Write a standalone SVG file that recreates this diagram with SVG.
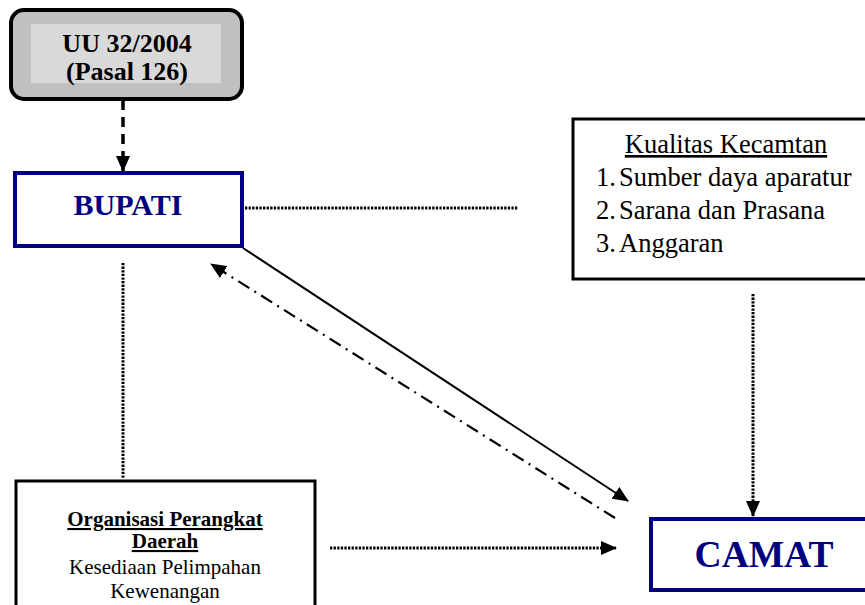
<svg xmlns="http://www.w3.org/2000/svg" width="865" height="605" viewBox="0 0 865 605">
<style>
.t{font-family:"Liberation Serif","Times New Roman",serif;}
.dot{stroke:#000;stroke-width:3;stroke-dasharray:2.3 1.3;fill:none;}
</style>
<defs>
<marker id="ahL" markerWidth="16" markerHeight="14" refX="15" refY="7" orient="auto" markerUnits="userSpaceOnUse" viewBox="0 0 16 14">
<path d="M0,0 L16,7 L0,14 z" fill="#000"/>
</marker>
</defs>
<rect width="865" height="605" fill="#fff"/>
<g id="connectors">
<line x1="123" y1="100" x2="123" y2="171" stroke="#000" stroke-width="3.5" stroke-dasharray="10 7" marker-end="url(#ahL)"/>
<line x1="245" y1="208" x2="518" y2="208" class="dot"/>
<line x1="123" y1="263" x2="123" y2="478" class="dot"/>
<line x1="753" y1="294" x2="753" y2="516" class="dot" marker-end="url(#ahL)"/>
<line x1="330" y1="548" x2="616" y2="548" class="dot" marker-end="url(#ahL)"/>
<line x1="243" y1="248" x2="628" y2="501" stroke="#000" stroke-width="2" marker-end="url(#ahL)"/>
<line x1="615" y1="518" x2="211" y2="264" stroke="#000" stroke-width="2.2" stroke-dasharray="13 6 2 6" marker-end="url(#ahL)"/>
</g>
<g id="uu">
<rect x="11" y="10" width="231" height="89" rx="13" fill="#c0c0c0" stroke="#000" stroke-width="4"/>
<rect x="31" y="24" width="190" height="59" fill="#d9d9d9"/>
<text class="t" x="127" y="52" font-size="26" font-weight="bold" text-anchor="middle">UU 32/2004</text>
<text class="t" x="127" y="80" font-size="26" font-weight="bold" text-anchor="middle">(Pasal 126)</text>
</g>
<g id="bupati">
<rect x="15" y="173" width="227" height="73" fill="#fff" stroke="#000080" stroke-width="4"/>
<text class="t" x="128" y="215" font-size="30" font-weight="bold" fill="#000080" text-anchor="middle">BUPATI</text>
</g>
<g id="kualitas">
<rect x="573" y="119" width="300" height="160" fill="#fff" stroke="#000" stroke-width="3"/>
<text class="t" x="726" y="153" font-size="26.5" text-anchor="middle" text-decoration="underline">Kualitas Kecamtan</text>
<text class="t" x="596" y="186" font-size="26.5">1.</text>
<text class="t" x="619" y="186" font-size="26.5">Sumber daya aparatur</text>
<text class="t" x="596" y="219" font-size="26.5">2.</text>
<text class="t" x="619" y="219" font-size="26.5">Sarana dan Prasana</text>
<text class="t" x="596" y="252" font-size="26.5">3.</text>
<text class="t" x="619" y="252" font-size="26.5">Anggaran</text>
</g>
<g id="organisasi">
<rect x="16" y="481" width="299" height="140" fill="#fff" stroke="#000" stroke-width="3"/>
<text class="t" x="165" y="526" font-size="21" font-weight="bold" text-anchor="middle" text-decoration="underline">Organisasi Perangkat</text>
<text class="t" x="165" y="548" font-size="21" font-weight="bold" text-anchor="middle" text-decoration="underline">Daerah</text>
<text class="t" x="165" y="574" font-size="21" text-anchor="middle">Kesediaan Pelimpahan</text>
<text class="t" x="165" y="598" font-size="21" text-anchor="middle">Kewenangan</text>
</g>
<g id="camat">
<rect x="651" y="519" width="230" height="71" fill="#fff" stroke="#000080" stroke-width="4"/>
<text class="t" x="764" y="567" font-size="37.5" font-weight="bold" fill="#000080" text-anchor="middle">CAMAT</text>
</g>
</svg>
